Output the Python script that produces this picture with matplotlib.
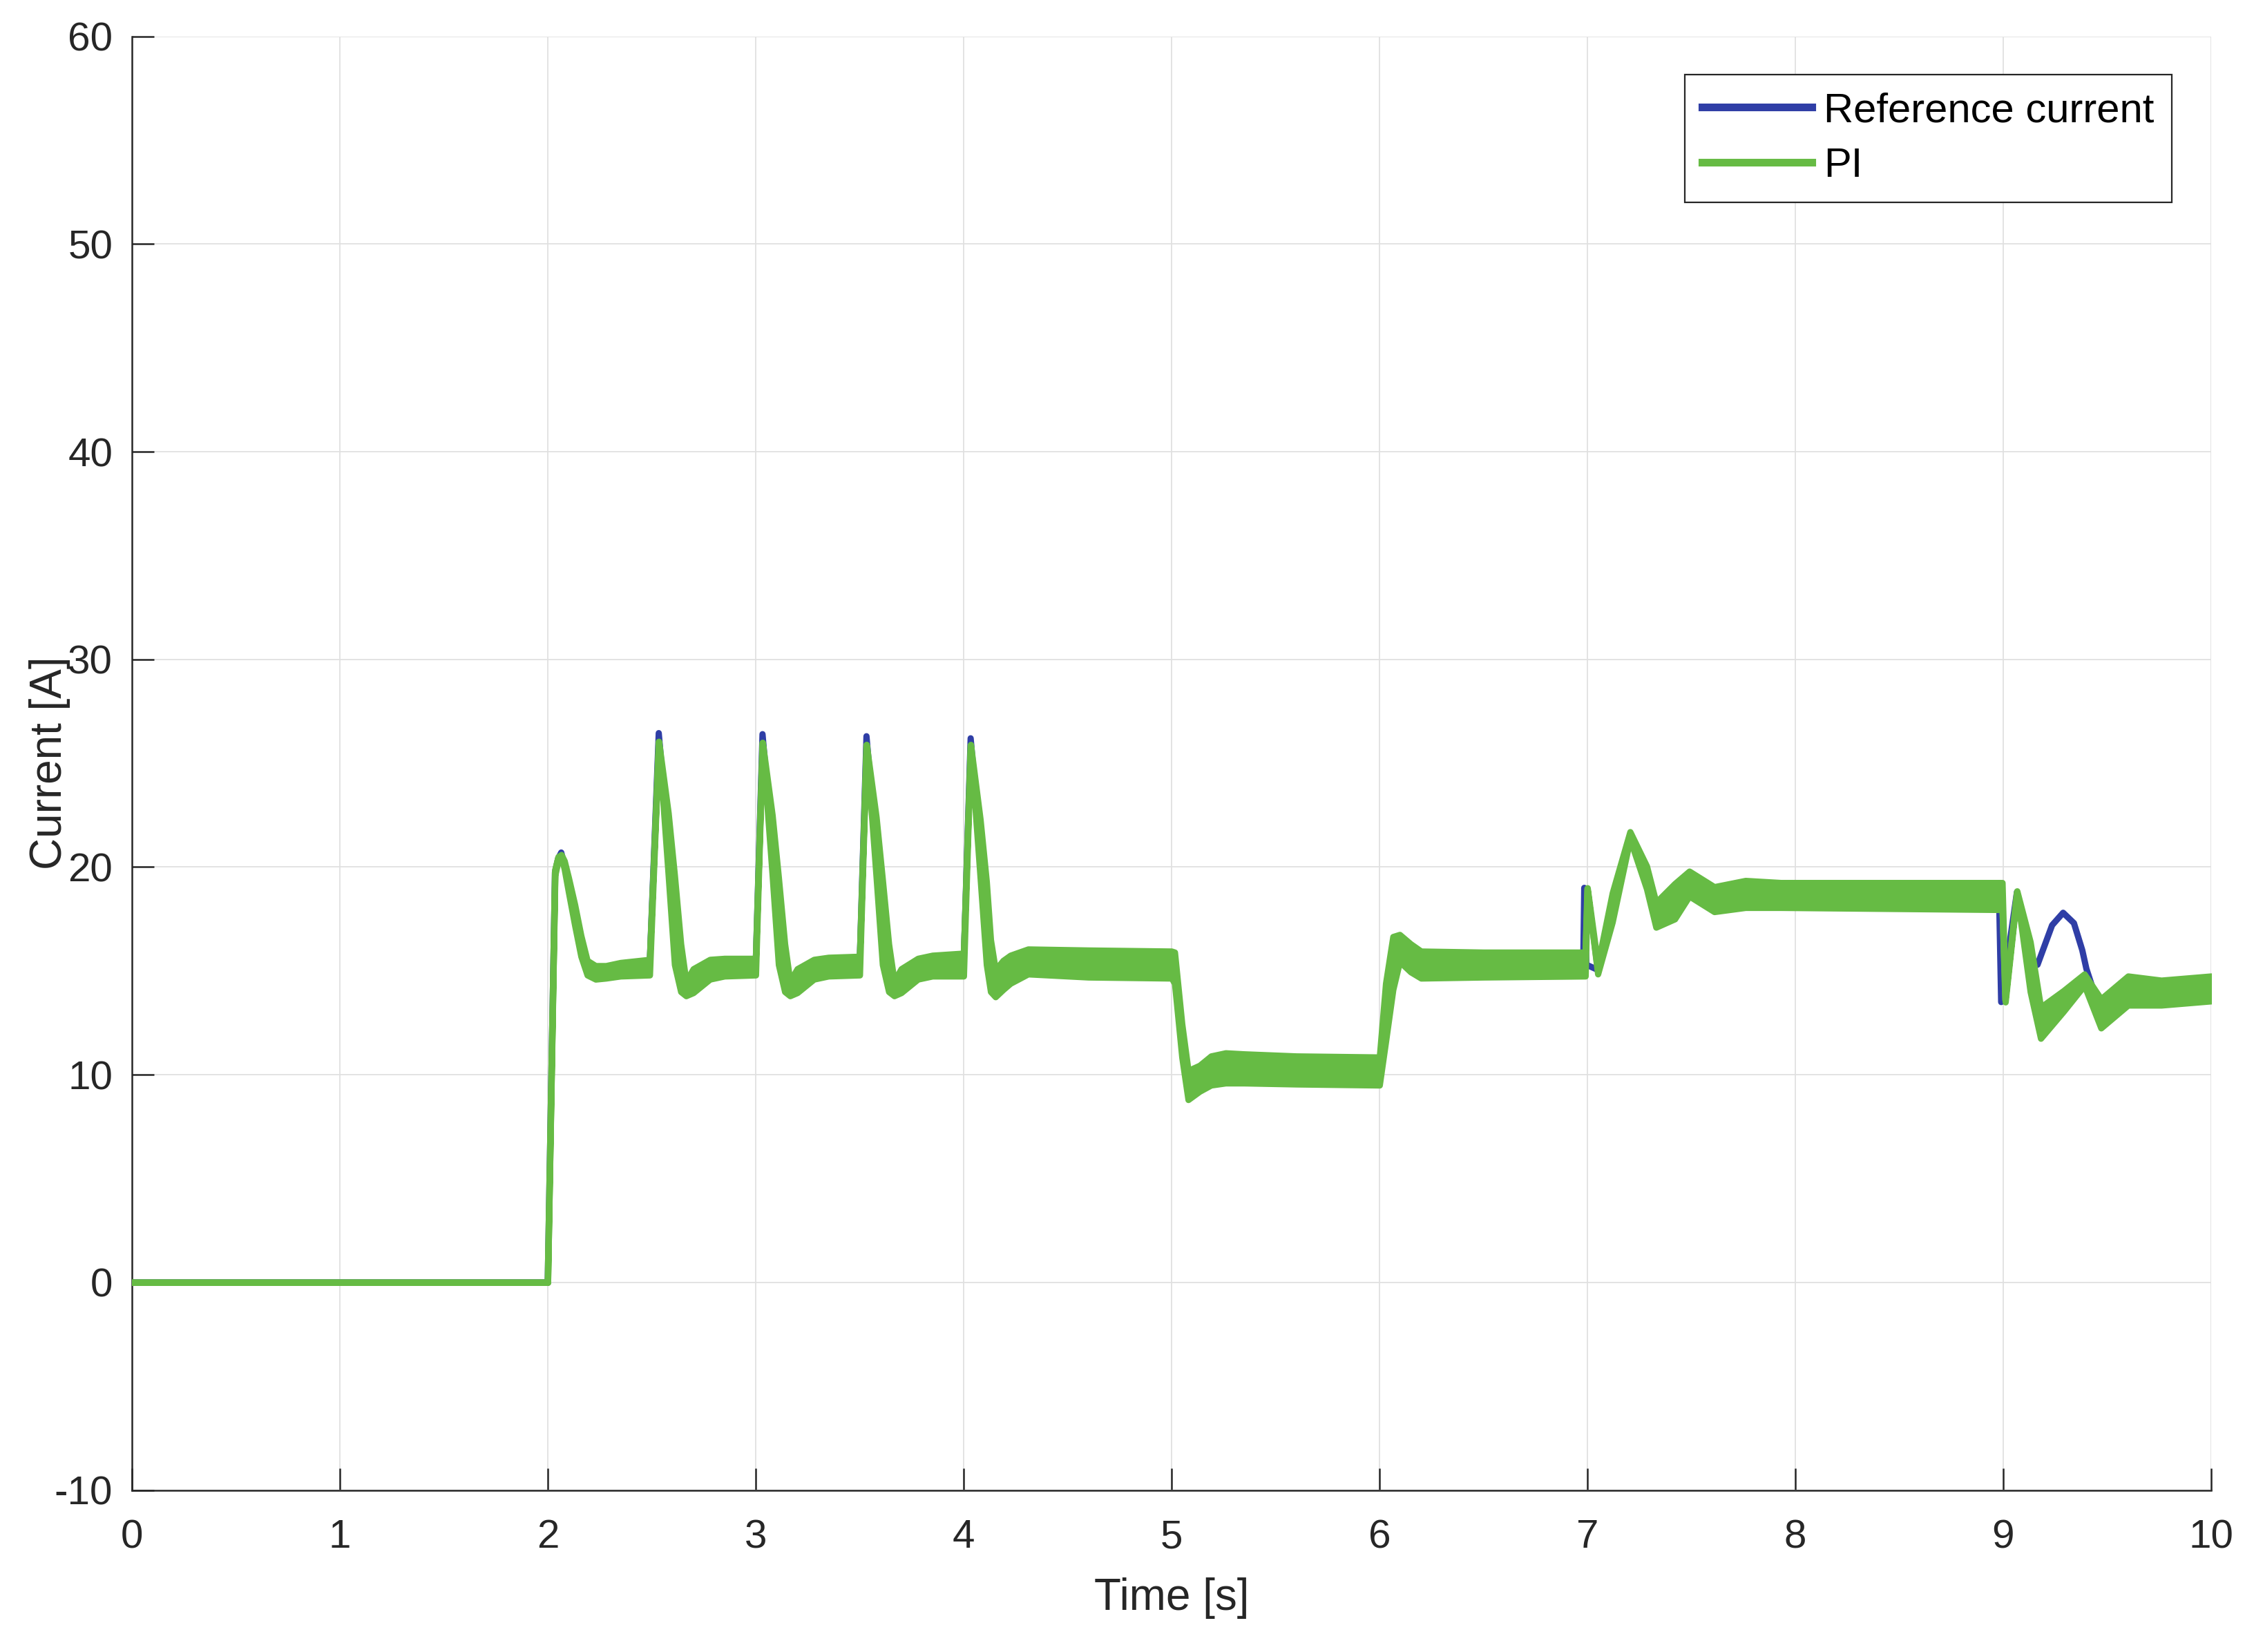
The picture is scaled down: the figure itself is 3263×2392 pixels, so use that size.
import numpy as np
import matplotlib
matplotlib.use("Agg")
import matplotlib.pyplot as plt

plt.rcParams['font.family'] = ['Liberation Sans', 'DejaVu Sans']
plt.rcParams['axes.unicode_minus'] = False

# PI current: time, lower and upper edge of the ripple band [A]
t_pi = [0.00, 2.00, 2.035, 2.05, 2.065, 2.08, 2.10, 2.13, 2.16, 2.19, 2.23, 2.28, 2.35, 2.49,
        2.534, 2.58, 2.61, 2.64, 2.665, 2.70, 2.78, 2.85, 3.00,
        3.033, 3.08, 3.11, 3.14, 3.165, 3.20, 3.28, 3.35, 3.50,
        3.533, 3.58, 3.61, 3.64, 3.666, 3.70, 3.78, 3.85, 4.00,
        4.034, 4.08, 4.11, 4.13, 4.153, 4.19, 4.225, 4.31, 4.60, 5.00,
        5.015, 5.05, 5.08, 5.135, 5.19, 5.26, 5.35, 5.60, 6.00,
        6.03, 6.065, 6.097, 6.15, 6.20, 6.50, 6.99,
        7.00, 7.05, 7.12, 7.205, 7.285, 7.33, 7.42, 7.49, 7.61, 7.76, 7.93, 8.995,
        9.01, 9.066, 9.13, 9.18, 9.29, 9.39, 9.47, 9.60, 9.76, 10.0]
pi_lo = [0.0, 0.0, 19.6, 20.3, 20.5, 19.9, 18.8, 17.2, 15.7, 14.8, 14.6, 14.65, 14.75, 14.8,
         26.0, 19.6, 15.3, 14.0, 13.8, 13.95, 14.6, 14.75, 14.8,
         25.95, 19.6, 15.3, 14.0, 13.8, 13.95, 14.6, 14.75, 14.8,
         25.85, 19.5, 15.3, 14.0, 13.8, 13.95, 14.6, 14.75, 14.75,
         25.8, 19.5, 15.3, 14.0, 13.75, 14.1, 14.4, 14.85, 14.7, 14.65,
         14.4, 10.85, 8.8, 9.2, 9.5, 9.6, 9.6, 9.55, 9.5,
         11.6, 14.1, 15.45, 14.95, 14.65, 14.7, 14.75,
         18.9, 14.85, 17.35, 21.35, 18.95, 17.1, 17.5, 18.6, 17.85, 18.05, 18.05, 17.95,
         13.5, 18.7, 14.0, 11.75, 13.05, 14.3, 12.25, 13.35, 13.35, 13.55]
pi_hi = [0.0, 0.0, 19.9, 20.5, 20.6, 20.3, 19.5, 18.2, 16.7, 15.5, 15.25, 15.25, 15.4, 15.55,
         26.05, 22.6, 19.6, 16.3, 14.5, 15.1, 15.55, 15.6, 15.6,
         26.0, 22.5, 19.5, 16.3, 14.5, 15.1, 15.55, 15.65, 15.7,
         25.9, 22.4, 19.4, 16.3, 14.5, 15.1, 15.6, 15.75, 15.85,
         25.9, 22.3, 19.3, 16.5, 15.05, 15.5, 15.75, 16.05, 16.0, 15.95,
         15.9, 12.45, 10.2, 10.45, 10.9, 11.05, 11.0, 10.9, 10.85,
         14.4, 16.65, 16.75, 16.3, 15.95, 15.9, 15.9,
         19.0, 15.3, 18.75, 21.7, 20.05, 18.3, 19.2, 19.8, 19.05, 19.35, 19.25, 19.25,
         13.7, 18.85, 16.4, 13.25, 14.05, 14.85, 13.65, 14.75, 14.55, 14.75]

# reference current [A]
t_ref = [0.00, 2.00, 2.035, 2.05, 2.065, 2.08, 2.10, 2.13, 2.16, 2.19, 2.28, 2.49,
         2.534, 2.58, 2.61, 2.64, 2.665, 2.70, 2.78, 3.00,
         3.033, 3.08, 3.11, 3.14, 3.165, 3.20, 3.28, 3.50,
         3.533, 3.58, 3.61, 3.64, 3.666, 3.70, 3.78, 4.00,
         4.034, 4.08, 4.11, 4.13, 4.153, 4.225, 4.31, 5.00,
         5.015, 5.05, 5.08, 5.135, 5.19, 5.26, 6.00,
         6.03, 6.065, 6.097, 6.15, 6.20, 6.98, 6.985, 6.995,
         7.05, 7.12, 7.205, 7.285, 7.33, 7.42, 7.49, 7.61, 7.76, 7.93, 8.98,
         8.99, 9.066, 9.13, 9.165, 9.235, 9.288, 9.34, 9.38, 9.40,
         9.47, 9.60, 9.76, 10.0]
i_ref = [0.0, 0.0, 19.75, 20.4, 20.7, 20.1, 19.15, 17.7, 16.2, 15.15, 14.95, 15.2,
         26.45, 21.1, 17.4, 15.1, 14.15, 14.5, 15.1, 15.2,
         26.4, 21.0, 17.4, 15.1, 14.15, 14.5, 15.1, 15.25,
         26.3, 20.9, 17.3, 15.1, 14.15, 14.5, 15.1, 15.3,
         26.2, 20.9, 17.3, 15.2, 14.4, 15.1, 15.45, 15.3,
         15.15, 11.65, 9.5, 9.8, 10.2, 10.3, 10.2,
         13.0, 15.4, 16.1, 15.6, 15.3, 15.3, 19.0, 15.3,
         15.05, 18.05, 21.5, 19.5, 17.7, 18.35, 19.2, 18.45, 18.7, 18.6, 18.6,
         13.5, 18.8, 15.2, 15.3, 17.2, 17.8, 17.3, 16.0, 15.1,
         12.95, 14.05, 13.95, 14.15]

blue = '#2f3ea6'
green = '#66bb44'

fig = plt.figure(figsize=(32.63, 23.92), dpi=100)
ax = fig.add_axes([0.0585, 0.098, 0.9225, 0.880])

ax.plot(t_ref, i_ref, color=blue, lw=6.5, label='Reference current', zorder=2,
        solid_joinstyle='round')
ax.fill_between(t_pi, pi_lo, pi_hi, facecolor=green, edgecolor=green, lw=6.5,
                joinstyle='round', zorder=3)
pi_mid = (np.array(pi_lo) + np.array(pi_hi)) / 2
ax.plot(t_pi, pi_mid, color=green, lw=6.5, label='PI', zorder=3)

ax.set_xlim(0, 10)
ax.set_ylim(-10, 60)
ax.set_xticks(range(0, 11))
ax.set_yticks(range(-10, 61, 10))
ax.grid(True, color='#e0e0e0', lw=1.3)
ax.set_axisbelow(True)

for s in ['top', 'right']:
    ax.spines[s].set_visible(False)
for s in ['left', 'bottom']:
    ax.spines[s].set_color('#262626')
    ax.spines[s].set_linewidth(1.8)

ax.tick_params(axis='both', direction='in', length=23, width=1.8,
               colors='#262626', labelsize=42)
ax.tick_params(axis='x', pad=30)
ax.tick_params(axis='y', pad=20)

ax.set_xlabel('Time [s]', fontsize=46, color='#262626', labelpad=22)
ax.set_ylabel('Current [A]', fontsize=46, color='#262626', labelpad=-17)

leg = ax.legend(loc='upper right', bbox_to_anchor=(0.9635, 0.9548),
                bbox_transform=fig.transFigure, borderaxespad=0,
                fontsize=43, handlelength=2.65, handletextpad=0.3,
                labelspacing=0.42, borderpad=0.42, fancybox=False,
                framealpha=1, edgecolor='#262626')
leg.get_frame().set_linewidth(1.6)
for ln in leg.get_lines():
    ln.set_linewidth(8)

fig.savefig('out.png', dpi=100)
